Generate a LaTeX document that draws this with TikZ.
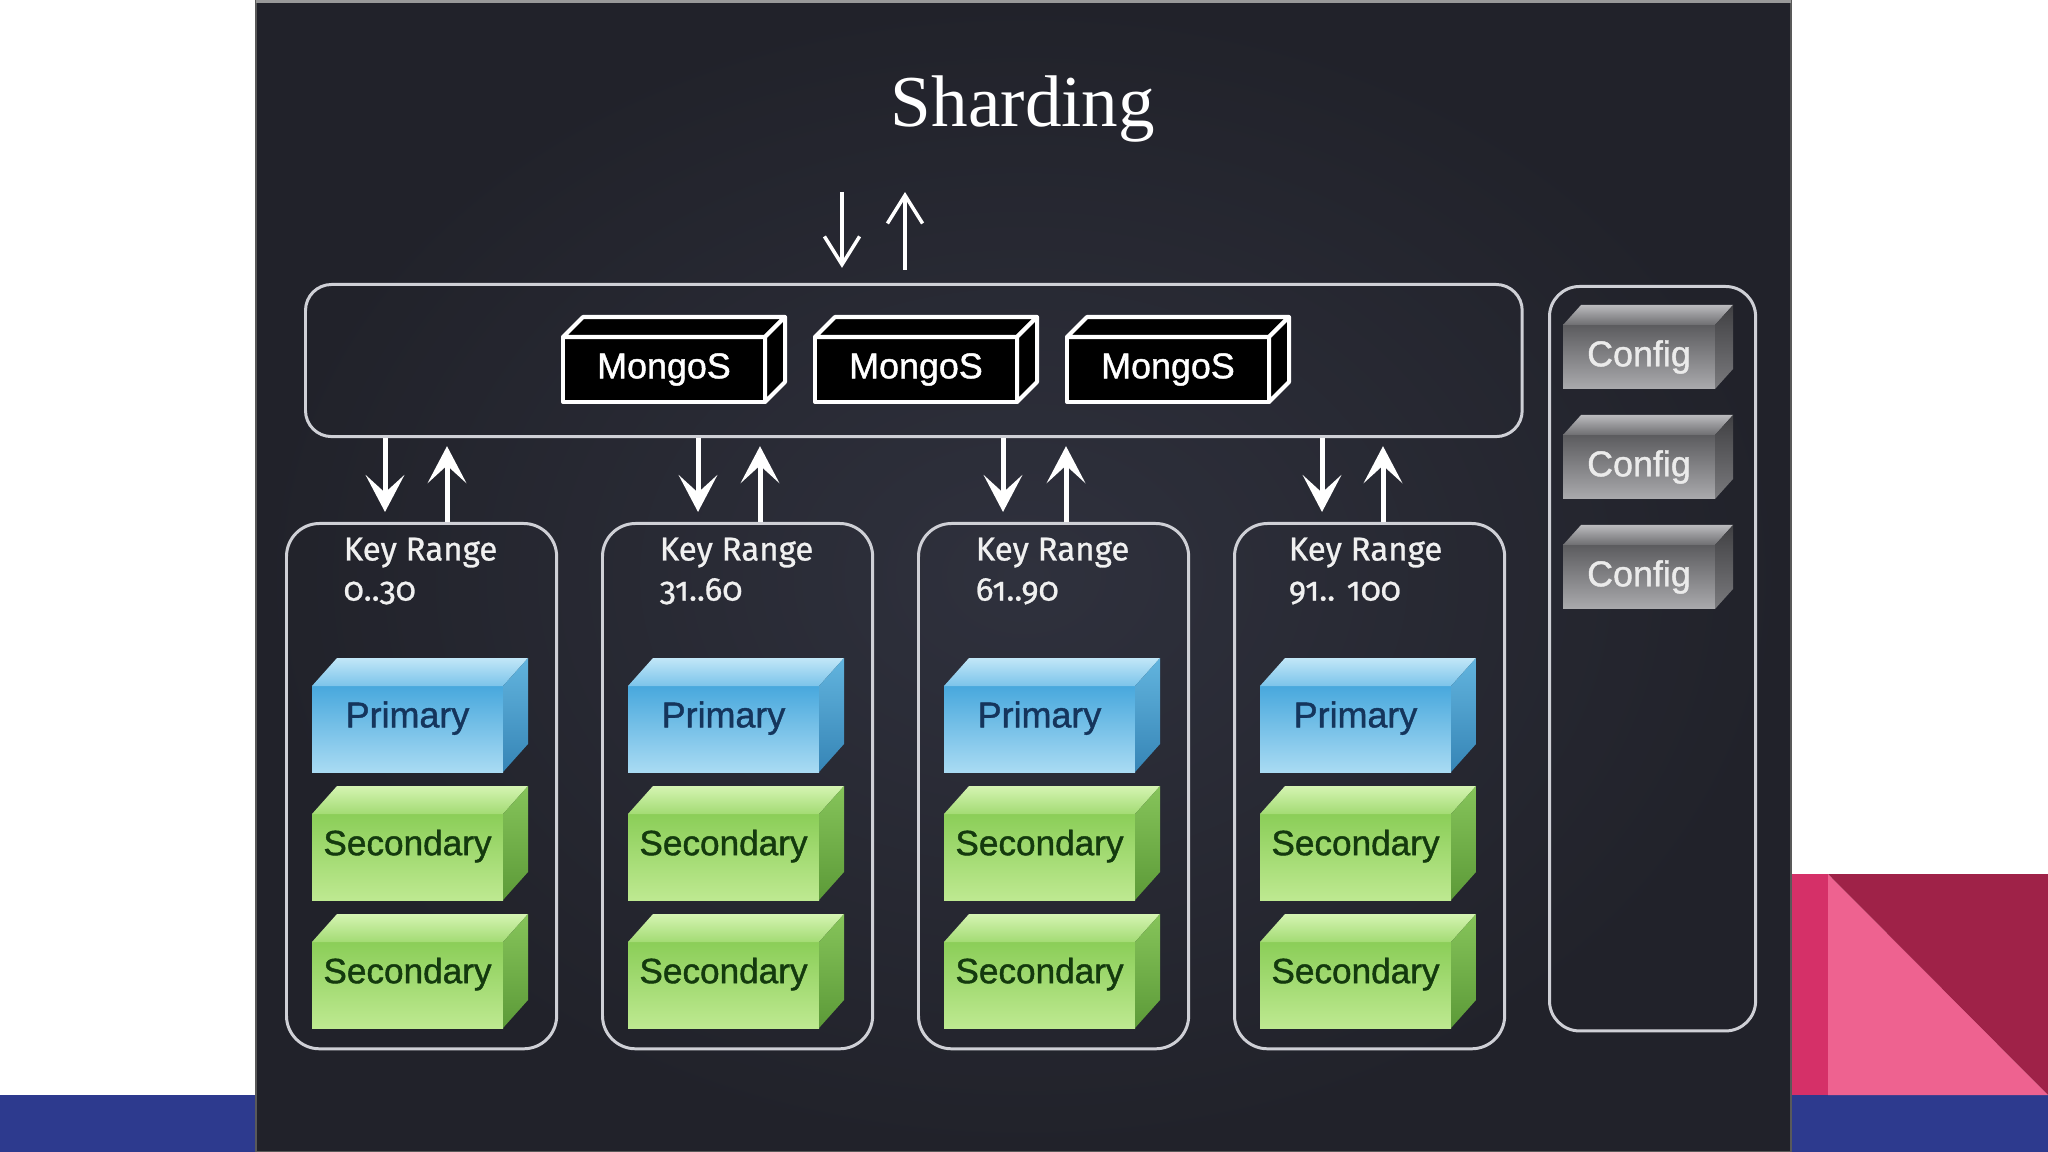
\documentclass[tikz,border=0pt]{standalone}
\usepackage{fontspec}
\setmainfont{Liberation Sans}
\newfontfamily\boxfont[FakeBold=1.2]{Liberation Sans}
\newfontfamily\titlefont{Liberation Serif}
\newfontfamily\krfont[Numbers=OldStyle,FakeBold=0.8]{Fira Sans}
\usetikzlibrary{arrows.meta,calc}
\definecolor{barblue}{HTML}{2D3A8E}
\definecolor{pinkA}{HTML}{D53068}
\definecolor{pinkB}{HTML}{EE6290}
\definecolor{maroon}{HTML}{9F2248}
\definecolor{panelC}{HTML}{2F313D}
\definecolor{panelE}{HTML}{21222A}
\definecolor{contline}{HTML}{CFD0D6}
\definecolor{primA}{HTML}{48A8DD}
\definecolor{primB}{HTML}{A9DBF3}
\definecolor{primTA}{HTML}{C2E7F8}
\definecolor{primTB}{HTML}{7CC4EA}
\definecolor{primSA}{HTML}{62B4DE}
\definecolor{primSB}{HTML}{3685B6}
\definecolor{primtext}{HTML}{15355C}
\definecolor{secA}{HTML}{8BCE58}
\definecolor{secB}{HTML}{BEE991}
\definecolor{secTA}{HTML}{D5F4B2}
\definecolor{secTB}{HTML}{A3DB74}
\definecolor{secSA}{HTML}{86C45A}
\definecolor{secSB}{HTML}{5C9A38}
\definecolor{sectext}{HTML}{143A0E}
\definecolor{cfgA}{HTML}{5C5C5F}
\definecolor{cfgB}{HTML}{AAAAAD}
\definecolor{cfgTA}{HTML}{BBBBBE}
\definecolor{cfgTB}{HTML}{6E6E71}
\definecolor{cfgSA}{HTML}{404043}
\definecolor{cfgSB}{HTML}{7A7A7D}
\tikzset{
  cont/.style={draw=contline, line width=0.85pt, inner sep=0, rectangle},
  arr/.style={draw=white, line width=1.42pt, -{Stealth[length=10.5pt, width=11pt, inset=5pt]}},
  tarr/.style={draw=white, line width=1pt, -{Straight Barb[length=8pt, width=10pt]}},
  primfront/.style={rectangle, inner sep=0, outer sep=0, top color=primA, bottom color=primB},
  primtop/.style={top color=primTA, bottom color=primTB},
  primside/.style={top color=primSA, bottom color=primSB},
  primtxt/.style={font=\boxfont\fontsize{10.2}{12}\selectfont, text=primtext, yshift=3.1pt},
  secfront/.style={rectangle, inner sep=0, outer sep=0, top color=secA, bottom color=secB},
  sectop/.style={top color=secTA, bottom color=secTB},
  secside/.style={top color=secSA, bottom color=secSB},
  sectxt/.style={font=\boxfont\fontsize{10}{12}\selectfont, text=sectext, yshift=3.1pt},
  cfgfront/.style={rectangle, inner sep=0, outer sep=0, top color=cfgA, bottom color=cfgB},
  cfgtop/.style={top color=cfgTA, bottom color=cfgTB},
  cfgside/.style={top color=cfgSA, bottom color=cfgSB},
  cfgtxt/.style={font=\boxfont\fontsize{10.2}{12}\selectfont, text=white!92!black},
  mgsfront/.style={rectangle, inner sep=0, outer sep=0, fill=black, draw=white, line width=1.14pt, line join=round},
  mgstop/.style={fill=black, draw=white, line width=1.14pt, line join=round},
  mgsside/.style={fill=black, draw=white, line width=1.14pt, line join=round},
  mgstxt/.style={font=\boxfont\fontsize{10.2}{12}\selectfont, text=white},
  krtxt/.style={font=\krfont\fontsize{9.4}{11.4}\selectfont, text=white!94!black, align=left, inner sep=0, anchor=north west},
}
\newcommand\solidbox[9]{%
  \node[#8front, anchor=north west, minimum width=#4*0.01cm, minimum height=#5*0.01cm] (#1) at (#2,#3) {};
  \path[#8top] (#1.north west) -- ++(#6,-#7) -- ([shift={(#6,-#7)}]#1.north east) -- (#1.north east) -- cycle;
  \path[#8side] (#1.north east) -- ([shift={(#6,-#7)}]#1.north east) -- ([shift={(#6,-#7)}]#1.south east) -- (#1.south east) -- cycle;
  \node[#8txt] (#1t) at (#1.center) {#9};
}
\begin{document}
\begin{tikzpicture}[x=0.01cm, y=-0.01cm]
\useasboundingbox (0,0) rectangle (2048,1152);
% slide background
\fill[white] (0,0) rectangle (2048,1152);
\fill[barblue] (0,1095) rectangle (2048,1152);
\fill[pinkA] (1791,874) rectangle (1828,1095);
\fill[pinkB] (1828,874) -- (1828,1095) -- (2048,1095) -- cycle;
\fill[maroon] (1828,874) -- (2048,874) -- (2048,1095) -- cycle;
% dark panel
\shade[inner color=panelC, outer color=panelE] (256,0) rectangle (1791,1152);
\draw[gray!70!black, line width=0.6pt] (256,0) rectangle (1791,1152);
\draw[gray!80, line width=0.9pt] (256,1.5) -- (1791,1.5);
% title
\node[font=\titlefont\fontsize{20.8}{24}\selectfont, text=white, anchor=base, inner sep=0] (title) at (1023,127) {Sharding};
% containers
\node[cont, rounded corners=0.26cm, anchor=north west, minimum width=12.16cm, minimum height=1.52cm] (mc) at (304,283) {};
\node[cont, rounded corners=0.3cm, anchor=north west, minimum width=2.06cm, minimum height=7.44cm] (cfgc) at (1548,285) {};
\foreach \i/\x in {1/285, 2/601, 3/917, 4/1233} {
  \node[cont, rounded corners=0.33cm, anchor=north west, minimum width=2.7cm, minimum height=5.25cm] (kr\i) at (\x,522) {};
}
% mongos
\solidbox{m1}{563}{337}{202}{65}{20}{20}{mgs}{MongoS}
\solidbox{m2}{815}{337}{202}{65}{20}{20}{mgs}{MongoS}
\solidbox{m3}{1067}{337}{202}{65}{20}{20}{mgs}{MongoS}
% config
\solidbox{c1}{1563}{325}{152}{64}{18}{20}{cfg}{Config}
\solidbox{c2}{1563}{435}{152}{64}{18}{20}{cfg}{Config}
\solidbox{c3}{1563}{545}{152}{64}{18}{20}{cfg}{Config}
% shards
\foreach \i/\x in {1/285, 2/601, 3/917, 4/1233} {
  \pgfmathsetmacro{\bx}{\x+27}
  \solidbox{p\i}{\bx}{686}{191}{86}{25}{28}{prim}{Primary}
  \solidbox{sa\i}{\bx}{814}{191}{86}{25}{28}{sec}{Secondary}
  \solidbox{sb\i}{\bx}{942}{191}{86}{25}{28}{sec}{Secondary}
}
% key range labels
\node[krtxt] (k1) at ($(kr1.north west)+(58,15)$) {Key Range\\0..30};
\node[krtxt] (k2) at ($(kr2.north west)+(58,15)$) {Key Range\\31..60};
\node[krtxt] (k3) at ($(kr3.north west)+(58,15)$) {Key Range\\61..90};
\node[krtxt] (k4) at ($(kr4.north west)+(55,15)$) {Key Range\\91.. 100};
% top arrows
\coordinate (ti) at (842,192);
\coordinate (to) at (905,192);
\draw[tarr, shorten >=4.3pt] (ti) -- (ti |- mc.north);
\draw[tarr, shorten <=3.7pt] (to |- mc.north) -- (to);
% arrows between mongos layer and shards
\foreach \i/\d/\u in {1/385/447, 2/698/760, 3/1003/1066, 4/1322/1383} {
  \coordinate (d\i) at (\d,0);
  \coordinate (u\i) at (\u,0);
  \draw[arr, shorten >=2.85pt] (d\i |- mc.south) -- (d\i |- kr\i.north);
  \draw[arr, shorten >=2.3pt] (u\i |- kr\i.north) -- (u\i |- mc.south);
}
\end{tikzpicture}
\end{document}
